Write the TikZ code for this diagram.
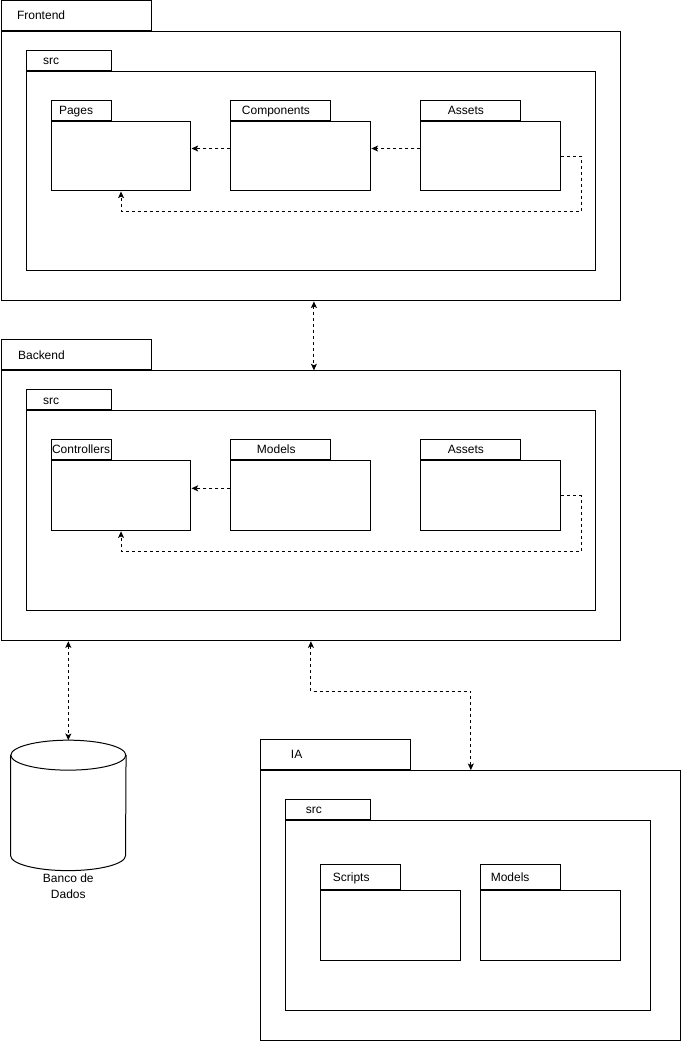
\documentclass[tikz,border=0pt]{standalone}
\usepackage{fontspec}
\setmainfont{Liberation Sans}
\usetikzlibrary{arrows.meta,positioning}
\newlength\px
\setlength\px{0.75pt}
\tikzset{
  pkg/.style={draw,line width=\px,fill=white,anchor=north west,inner sep=0pt},
  tab/.style={
    draw,line width=\px,fill=white,anchor=south west,
    inner ysep=0pt,text height=6.6pt,text depth=0.4pt,
    align=left,font=\fontsize{9}{11}\selectfont
  },
  box/.style={pkg,minimum width=140\px,minimum height=70\px},
  tip/.tip={Stealth[length=5pt,width=4.5pt,inset=1.2pt]},
  dep/.style={line width=\px,dash pattern=on 2.25pt off 2.25pt,-tip},
  link/.style={dep,tip-tip}
}
\begin{document}
\begin{tikzpicture}[x=0.75pt,y=-0.75pt]
      \useasboundingbox (-0.6,-0.6) rectangle (681.2,1041);

      \node[pkg,minimum width=620\px,minimum height=270\px] (frontend) at (0,30) {};
      \node[tab,minimum height=30\px,text width=118\px,inner xsep=16\px] (frontendtab) at (frontend.north west) {Frontend};
      \node[pkg,minimum width=570\px,minimum height=200\px] (fsrc) at (25,70) {};
      \node[tab,minimum height=20\px,text width=51\px,inner xsep=17\px] (fsrctab) at (fsrc.north west) {src};
      \node[box] (pages) at (50,120) {};
      \node[tab,minimum height=20\px,text width=44\px,inner xsep=8\px] (pagestab) at (pages.north west) {Pages};
      \node[box] (components) at (230,120) {};
      \node[tab,minimum height=20\px,text width=78\px,inner xsep=11\px] (componentstab) at (components.north west) {Components};
      \node[box] (fassets) at (420,120) {};
      \node[tab,minimum height=20\px,text width=46\px,inner xsep=27\px] (fassetstab) at (fassets.north west) {Assets};

      \node[pkg,minimum width=620\px,minimum height=270\px] (backend) at (0,370) {};
      \node[tab,minimum height=30\px,text width=116\px,inner xsep=17\px] (backendtab) at (backend.north west) {Backend};
      \node[pkg,minimum width=570\px,minimum height=200\px] (bsrc) at (25,410) {};
      \node[tab,minimum height=20\px,text width=51\px,inner xsep=17\px] (bsrctab) at (bsrc.north west) {src};
      \node[box] (controllers) at (50,460) {};
      \node[tab,minimum height=20\px,text width=58\px,inner xsep=1\px] (controllerstab) at (controllers.north west) {Controllers};
      \node[box] (bmodels) at (230,460) {};
      \node[tab,minimum height=20\px,text width=48\px,inner xsep=26\px] (bmodelstab) at (bmodels.north west) {Models};
      \node[box] (bassets) at (420,460) {};
      \node[tab,minimum height=20\px,text width=46\px,inner xsep=27\px] (bassetstab) at (bassets.north west) {Assets};

      \node[pkg,minimum width=420\px,minimum height=270\px] (ia) at (260,770) {};
      \node[tab,minimum height=30\px,text width=90\px,inner xsep=30\px] (iatab) at (ia.north west) {IA};
      \node[pkg,minimum width=365\px,minimum height=190\px] (isrc) at (285,820) {};
      \node[tab,minimum height=20\px,text width=45\px,inner xsep=20\px] (isrctab) at (isrc.north west) {src};
      \node[box] (scripts) at (320,890) {};
      \node[tab,minimum height=25\px,text width=56\px,inner xsep=12\px] (scriptstab) at (scripts.north west) {Scripts};
      \node[box] (imodels) at (480,890) {};
      \node[tab,minimum height=25\px,text width=60\px,inner xsep=10\px] (imodelstab) at (imodels.north west) {Models};

      \node[anchor=north west,inner sep=0pt,minimum width=115\px,minimum height=130\px] (db) at (10,740) {};
      \draw[line width=\px,fill=white] ([yshift=-15\px]db.north west) -- ([yshift=15\px]db.south west)
        arc[start angle=180,end angle=360,x radius=57.5\px,y radius=15\px] -- ([yshift=-15\px]db.north east);
      \draw[line width=\px] ([yshift=-15\px]db.north) ellipse[x radius=57.5\px,y radius=15\px];
      \node[below=3\px of db,align=center,inner sep=0pt,font=\fontsize{9}{12}\selectfont] (dblabel) {Banco de\\Dados};

      \draw[dep] ([yshift=7.5\px]components.west) -- ([yshift=7.5\px]pages.east);
      \draw[dep] ([yshift=7.5\px]fassets.west) -- ([yshift=7.5\px]components.east);
      \draw[dep] (fassets.east) -- ++(20,0) |- ([yshift=-20\px]pages.south) -- (pages.south);
      \draw[dep] ([yshift=7.5\px]bmodels.west) -- ([yshift=7.5\px]controllers.east);
      \draw[dep] (bassets.east) -- ++(20,0) |- ([yshift=-20\px]controllers.south) -- (controllers.south);

      \draw[link] ([xshift=3\px]frontend.south) -- ([xshift=3\px]backend.north);
      \draw[link] (backend.south -| db.north) -- (db.north);
      \draw[link] (backend.south) -- ++(0,50) -| (ia.north);
    \end{tikzpicture}
\end{document}
